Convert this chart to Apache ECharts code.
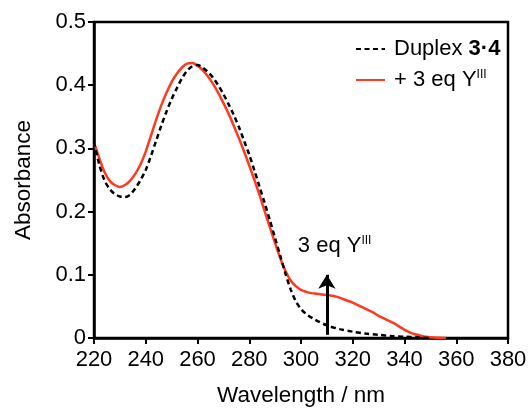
<!DOCTYPE html>
<html>
<head>
<meta charset="utf-8">
<script src="https://cdn.jsdelivr.net/npm/echarts@6/dist/echarts.min.js"></script>
<style>
html,body{margin:0;padding:0;background:#fff;}
#chart{width:530px;height:412px;}
</style>
</head>
<body>
<div id="chart"></div>
<script>
// ---- data ----
var seriesNames = ['Duplex 3·4', '+ 3 eq YIII'];
var wlDuplex = [220,222,224,226,228,230,232,234,236,238,240,242,244,246,248,250,252,254,256,258,260,262,264,266,268,270,272,274,276,278,280,282,284,286,288,290,292,294,296,298,300,302,305,310,315,320,325,330,335,340,345,350];
var absDuplex = [0.310,0.275,0.250,0.236,0.228,0.224,0.223,0.227,0.237,0.250,0.266,0.288,0.312,0.336,0.358,0.378,0.395,0.411,0.423,0.430,0.432,0.428,0.421,0.412,0.400,0.386,0.370,0.353,0.334,0.312,0.290,0.265,0.239,0.213,0.186,0.158,0.130,0.102,0.077,0.058,0.046,0.038,0.030,0.020,0.014,0.010,0.007,0.005,0.003,0.002,0.001,0.000];
var wlY = [220,222,224,226,228,230,232,234,236,238,240,242,244,246,248,250,252,254,256,258,260,262,264,266,268,270,272,274,276,278,280,282,284,286,288,290,292,294,296,298,300,302,304,306,308,310,312,314,316,318,320,322,324,326,328,330,332,334,336,338,340,342,344,346,348,350,353,356];
var absY = [0.310,0.285,0.263,0.249,0.242,0.239,0.242,0.249,0.260,0.275,0.295,0.320,0.345,0.368,0.388,0.405,0.418,0.428,0.434,0.435,0.431,0.424,0.414,0.402,0.388,0.372,0.355,0.336,0.316,0.295,0.273,0.250,0.226,0.200,0.175,0.150,0.126,0.106,0.091,0.082,0.076,0.073,0.071,0.070,0.069,0.068,0.067,0.065,0.062,0.059,0.056,0.052,0.048,0.044,0.040,0.035,0.031,0.027,0.023,0.018,0.013,0.009,0.006,0.004,0.002,0.001,0.0003,0.000];
var xTicks = {min: 220, max: 380, interval: 20};
var yTicks = {min: 0, max: 0.5, interval: 0.1};
var arrowX = 310, arrowFrom = 0.005, arrowTo = 0.100;
var noteText = ['3 eq Y', 'III'];
var notePos = [313, 0.146];
// ---- chart ----
function pairs(xs, ys){ return xs.map(function(x,i){ return [x, ys[i]]; }); }
var FONT = 'Liberation Sans, Arial, Helvetica, sans-serif';
var chart = echarts.init(document.getElementById('chart'), null, {renderer:'canvas'});
var option = {
  animation: false,
  backgroundColor: '#ffffff',
  textStyle: {fontFamily: FONT, color: '#000'},
  grid: {left: 94, right: 22, top: 22, bottom: 71, show: true, borderColor: '#000', borderWidth: 2.5, backgroundColor: 'transparent'},
  legend: {
    orient: 'vertical', left: 350, top: 33, itemWidth: 29, itemHeight: 14, itemGap: 9,
    data: seriesNames,
    itemStyle: {opacity: 0},
    formatter: function(name){
      return name === seriesNames[0] ? '{n|Duplex }{b|3·4}' : '{n|+ 3 eq Y}{s|III}';
    },
    textStyle: {
      fontFamily: FONT, fontSize: 22, color: '#000', padding: [0,0,0,4],
      rich: {
        n: {fontFamily: FONT, fontSize: 22, color: '#000'},
        b: {fontFamily: FONT, fontSize: 22, color: '#000', fontWeight: 'bold'},
        s: {fontFamily: FONT, fontSize: 12, color: '#000', verticalAlign: 'top', padding: [0,0,10,0]}
      }
    }
  },
  xAxis: {
    type: 'value', min: xTicks.min, max: xTicks.max, interval: xTicks.interval,
    name: 'Wavelength / nm', nameLocation: 'middle', nameGap: 46,
    nameTextStyle: {fontFamily: FONT, fontSize: 22.5, color: '#000'},
    axisLine: {show: true, onZero: false, lineStyle: {color: '#000', width: 2.5}},
    axisTick: {show: true, inside: false, length: 6, lineStyle: {color: '#000', width: 2}},
    axisLabel: {fontFamily: FONT, fontSize: 22, color: '#000', margin: 11},
    splitLine: {show: false}
  },
  yAxis: {
    type: 'value', min: yTicks.min, max: yTicks.max, interval: yTicks.interval,
    name: 'Absorbance', nameLocation: 'middle', nameGap: 59,
    nameTextStyle: {fontFamily: FONT, fontSize: 22.5, color: '#000'},
    axisLine: {show: true, onZero: false, lineStyle: {color: '#000', width: 2.5}},
    axisTick: {show: true, inside: false, length: 6, lineStyle: {color: '#000', width: 2}},
    axisLabel: {fontFamily: FONT, fontSize: 22, color: '#000', margin: 8},
    splitLine: {show: false}
  },
  series: [
    {
      name: seriesNames[0], type: 'line', data: pairs(wlDuplex, absDuplex),
      symbol: 'none', smooth: 0.3, z: 3,
      lineStyle: {color: '#000', width: 2.5, type: [5, 3.5]},
      itemStyle: {color: '#000'}
    },
    {
      name: seriesNames[1], type: 'line', data: pairs(wlY, absY),
      symbol: 'none', smooth: 0.3, z: 2,
      lineStyle: {color: '#ff3a1e', width: 2.5},
      itemStyle: {color: '#ff3a1e'},
      markLine: {
        silent: true, animation: false,
        symbol: ['none', 'arrow'], symbolSize: [13, 14],
        label: {show: false},
        lineStyle: {color: '#000', width: 3, type: 'solid'},
        emphasis: {disabled: true},
        data: [[{coord: [arrowX, arrowFrom]}, {coord: [arrowX, arrowTo]}]]
      },
      markPoint: {
        silent: true, animation: false,
        symbol: 'circle', symbolSize: 0,
        data: [{coord: notePos}],
        label: {
          show: true, position: 'inside',
          formatter: '{a|' + noteText[0] + '}{s|' + noteText[1] + '}',
          rich: {
            a: {fontFamily: FONT, fontSize: 22, color: '#000'},
            s: {fontFamily: FONT, fontSize: 12, color: '#000', verticalAlign: 'top', padding: [0,0,10,0]}
          }
        }
      }
    }
  ]
};
chart.setOption(option);
</script>
</body>
</html>
